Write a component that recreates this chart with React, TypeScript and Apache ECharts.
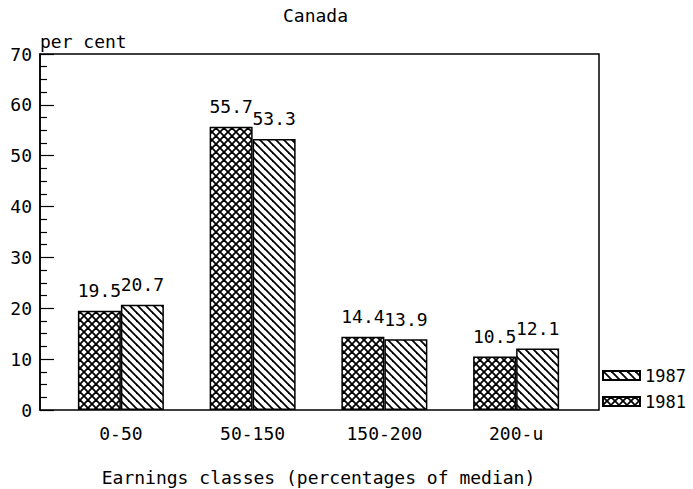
import React, { useEffect, useRef } from "react";
import * as echarts from "echarts";

const categories = ["0-50", "50-150", "150-200", "200-u"];
const values1981 = [19.5, 55.7, 14.4, 10.5];
const values1987 = [20.7, 53.3, 13.9, 12.1];
const seriesNames = ["1987", "1981"];
const titleText = "Canada";
const yAxisName = "per cent";
const xAxisName = "Earnings classes (percentages of median)";

const FONT = "'DejaVu Sans Mono', monospace";

function makePattern(cross: boolean) {
  const s = 8;
  const c = document.createElement("canvas");
  c.width = s;
  c.height = s;
  const ctx = c.getContext("2d")!;
  ctx.fillStyle = "#fff";
  ctx.fillRect(0, 0, s, s);
  ctx.strokeStyle = "#000";
  ctx.lineWidth = 1.8;
  const seg = (x1: number, y1: number, x2: number, y2: number) => {
    ctx.beginPath();
    ctx.moveTo(x1, y1);
    ctx.lineTo(x2, y2);
    ctx.stroke();
  };
  seg(-2, -2, s + 2, s + 2);
  seg(-2, s - 2, 2, s + 2);
  seg(s - 2, -2, s + 2, 2);
  if (cross) {
    seg(-2, s + 2, s + 2, -2);
    seg(-2, 2, 2, -2);
    seg(s - 2, s + 2, s + 2, s - 2);
  }
  return c;
}

export default function App() {
  const ref = useRef<HTMLDivElement>(null);
  useEffect(() => {
    if (!ref.current) return;
    const chart = echarts.init(ref.current, null, { renderer: "svg" });
    const crossPat = { image: makePattern(true), repeat: "repeat" };
    const diagPat = { image: makePattern(false), repeat: "repeat" };
    const labelStyle = {
      show: true,
      position: "top",
      distance: 11,
      color: "#000",
      fontFamily: FONT,
      fontSize: 18,
    };
    chart.setOption({
      animation: false,
      backgroundColor: "#fff",
      title: {
        text: titleText,
        left: 283,
        top: 6,
        padding: 0,
        textStyle: { fontFamily: FONT, fontSize: 18, fontWeight: "normal", color: "#000" },
      },
      legend: {
        orient: "vertical",
        left: 602,
        top: 367,
        padding: 0,
        icon: "rect",
        itemWidth: 37,
        itemHeight: 9,
        itemGap: 9,
        data: seriesNames,
        textStyle: { fontFamily: FONT, fontSize: 17, color: "#000" },
      },
      grid: [
        {
          left: 40,
          right: 94,
          top: 54,
          bottom: 79,
          outerBoundsMode: "none",
          show: true,
          borderColor: "#000",
          borderWidth: 1.5,
          backgroundColor: "transparent",
        },
        { left: 55, right: 111, top: 54, bottom: 79, outerBoundsMode: "none" },
      ],
      xAxis: [
        { gridIndex: 0, type: "value", show: false, min: 0, max: 1 },
        {
          gridIndex: 1,
          type: "category",
          data: categories,
          axisLine: { show: false },
          axisTick: { show: false },
          axisLabel: { color: "#000", fontFamily: FONT, fontSize: 18, margin: 14 },
          name: xAxisName,
          nameLocation: "middle",
          nameGap: 58,
          nameTextStyle: { color: "#000", fontFamily: FONT, fontSize: 18 },
        },
      ],
      yAxis: [
        {
          gridIndex: 0,
          type: "value",
          min: 0,
          max: 70,
          interval: 10,
          axisLine: { show: true, lineStyle: { color: "#000", width: 1.5 } },
          axisTick: { show: true, inside: true, length: 14, lineStyle: { color: "#000", width: 1.2 } },
          minorTick: { show: true, splitNumber: 4, length: 7, lineStyle: { color: "#000", width: 1.2 } },
          splitLine: { show: false },
          axisLabel: { color: "#000", fontFamily: FONT, fontSize: 18, margin: 8 },
          name: yAxisName,
          nameLocation: "end",
          nameGap: 4,
          nameTextStyle: {
            align: "left",
            verticalAlign: "bottom",
            color: "#000",
            fontFamily: FONT,
            fontSize: 18,
          },
        },
        { gridIndex: 1, type: "value", min: 0, max: 70, show: false },
      ],
      series: [
        {
          type: "bar",
          name: "1981",
          xAxisIndex: 1,
          yAxisIndex: 1,
          data: values1981,
          barWidth: 43,
          barGap: "0%",
          itemStyle: { color: crossPat, borderColor: "#000", borderWidth: 1.5 },
          label: labelStyle,
        },
        {
          type: "bar",
          name: "1987",
          xAxisIndex: 1,
          yAxisIndex: 1,
          data: values1987,
          barWidth: 43,
          barGap: "0%",
          itemStyle: { color: diagPat, borderColor: "#000", borderWidth: 1.5 },
          label: labelStyle,
        },
      ],
    });
    return () => chart.dispose();
  }, []);
  return (
    <div
      ref={ref}
      style={{ position: "fixed", left: 0, top: 0, width: 693, height: 489 }}
    />
  );
}
